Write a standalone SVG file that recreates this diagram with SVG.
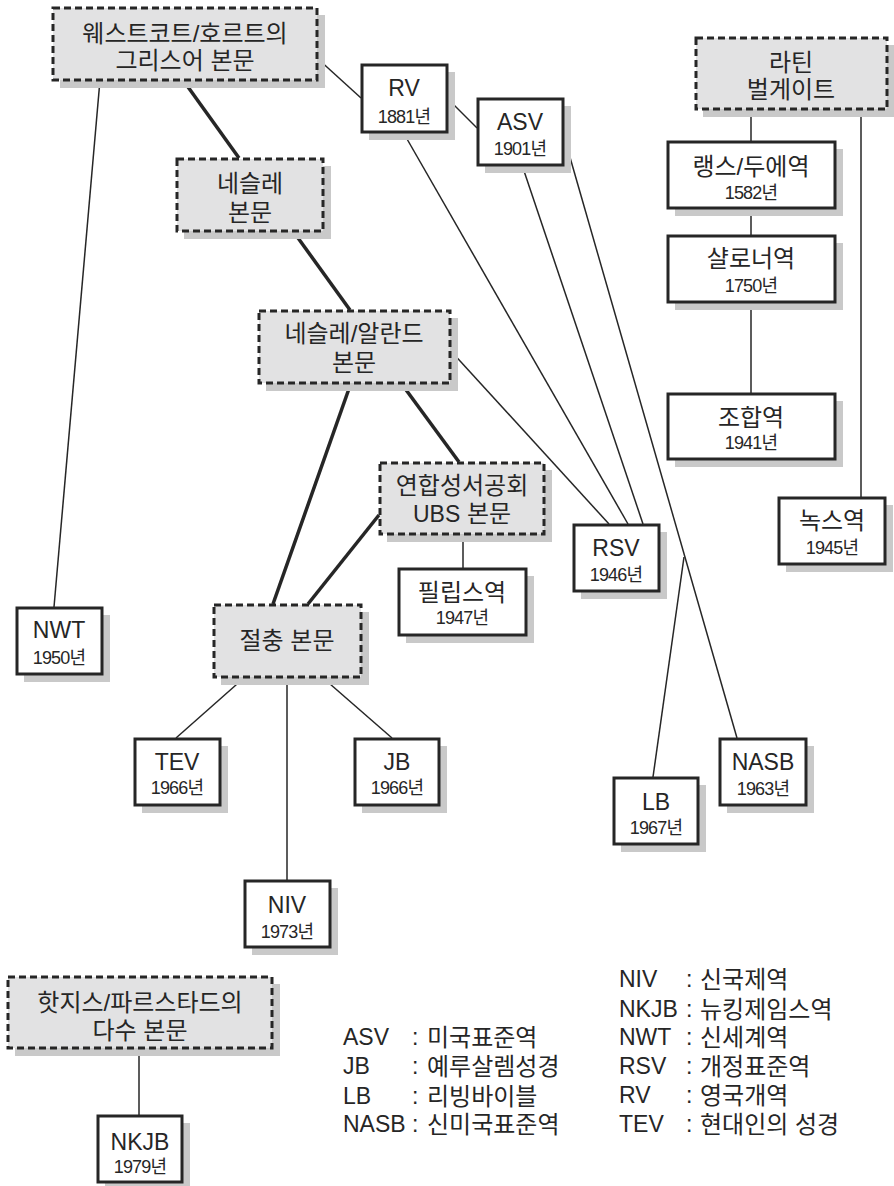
<svg xmlns="http://www.w3.org/2000/svg" width="894" height="1186" viewBox="0 0 894 1186">
<style>
text{font-family:"Liberation Sans","Noto Sans CJK KR",sans-serif;fill:#262626;text-anchor:middle}
.t{font-size:23px}
.k{font-size:24px}
.y{font-size:18px;letter-spacing:-0.8px}
.sh{fill:#c9c9c9}
.solid{fill:#fff;stroke:#262626;stroke-width:3}
.dash{fill:#e2e2e3;stroke:#262626;stroke-width:3;stroke-dasharray:7 4}
.thin{stroke:#262626;stroke-width:1.5;fill:none}
.thick{stroke:#262626;stroke-width:3.5;fill:none}
.lg{font-size:23px;text-anchor:start}
.lk{font-size:24px;text-anchor:start}
</style>
<rect width="894" height="1186" fill="#fff"/>
<g id="connectors">
<line class="thin" x1="100" y1="80" x2="54" y2="607"/>
<line class="thin" x1="317" y1="58" x2="361" y2="98"/>
<line class="thin" x1="447" y1="98" x2="477" y2="128"/>
<line class="thin" x1="403" y1="132" x2="628" y2="524"/>
<line class="thin" x1="522" y1="165" x2="643" y2="524"/>
<line class="thin" x1="563" y1="133" x2="737" y2="738"/>
<line class="thin" x1="684" y1="557" x2="653" y2="777"/>
<line class="thin" x1="450" y1="350" x2="609" y2="524"/>
<line class="thin" x1="463" y1="534" x2="463" y2="568"/>
<line class="thin" x1="245" y1="677" x2="176" y2="738"/>
<line class="thin" x1="287" y1="677" x2="287" y2="880"/>
<line class="thin" x1="322" y1="677" x2="392" y2="738"/>
<line class="thin" x1="751" y1="109" x2="751" y2="141"/>
<line class="thin" x1="751" y1="208" x2="751" y2="235"/>
<line class="thin" x1="751" y1="302" x2="751" y2="393"/>
<line class="thin" x1="861" y1="109" x2="861" y2="497"/>
<line class="thin" x1="139" y1="1048" x2="139" y2="1115"/>
<line class="thick" x1="183" y1="80" x2="239" y2="158"/>
<line class="thick" x1="293" y1="231" x2="350" y2="310"/>
<line class="thick" x1="351" y1="383" x2="273" y2="604"/>
<line class="thick" x1="401" y1="383" x2="459" y2="462"/>
<line class="thick" x1="379" y1="515" x2="308" y2="604"/>
</g>
<g id="westcott">
<rect class="sh" x="60" y="15" width="265" height="73"/>
<rect class="dash" x="53" y="8" width="264" height="72"/>
<text class="k" x="185" y="42">웨스트코트/호르트의</text>
<text class="k" x="185" y="69">그리스어 본문</text>
</g>
<g id="nestle">
<rect class="sh" x="184" y="166" width="147" height="73"/>
<rect class="dash" x="177" y="159" width="146" height="72"/>
<text class="k" x="250" y="192">네슬레</text>
<text class="k" x="250" y="221">본문</text>
</g>
<g id="nestleAland">
<rect class="sh" x="266" y="318" width="192" height="73"/>
<rect class="dash" x="259" y="311" width="191" height="72"/>
<text class="k" x="354" y="342">네슬레/알란드</text>
<text class="k" x="354" y="371">본문</text>
</g>
<g id="ubs">
<rect class="sh" x="387" y="470" width="165" height="72"/>
<rect class="dash" x="380" y="463" width="164" height="71"/>
<text class="k" x="462" y="494">연합성서공회</text>
<text class="k" x="462" y="522"><tspan style="font-size:23px">UBS</tspan> 본문</text>
</g>
<g id="eclectic">
<rect class="sh" x="221" y="612" width="148" height="73"/>
<rect class="dash" x="214" y="605" width="147" height="72"/>
<text class="k" x="287" y="649">절충 본문</text>
</g>
<g id="latin">
<rect class="sh" x="703" y="45" width="192" height="72"/>
<rect class="dash" x="696" y="38" width="191" height="71"/>
<text class="k" x="791" y="71">라틴</text>
<text class="k" x="791" y="98">벌게이트</text>
</g>
<g id="hodges">
<rect class="sh" x="15" y="984" width="265" height="72"/>
<rect class="dash" x="8" y="977" width="264" height="71"/>
<text class="k" x="140" y="1011">핫지스/파르스타드의</text>
<text class="k" x="140" y="1039">다수 본문</text>
</g>
<g id="rv">
<rect class="sh" x="369" y="72" width="86" height="68"/>
<rect class="solid" x="362" y="65" width="85" height="67"/>
<text class="t" x="404" y="96">RV</text>
<text class="y" x="404" y="123">1881년</text>
</g>
<g id="asv">
<rect class="sh" x="485" y="106" width="86" height="67"/>
<rect class="solid" x="478" y="99" width="85" height="66"/>
<text class="t" x="520" y="130">ASV</text>
<text class="y" x="520" y="155">1901년</text>
</g>
<g id="rheims">
<rect class="sh" x="675" y="149" width="168" height="67"/>
<rect class="solid" x="668" y="142" width="167" height="66"/>
<text class="k" x="751" y="175">랭스/두에역</text>
<text class="y" x="751" y="199">1582년</text>
</g>
<g id="challoner">
<rect class="sh" x="675" y="243" width="168" height="67"/>
<rect class="solid" x="668" y="236" width="167" height="66"/>
<text class="k" x="751" y="267">샬로너역</text>
<text class="y" x="751" y="292">1750년</text>
</g>
<g id="joint">
<rect class="sh" x="675" y="401" width="168" height="66"/>
<rect class="solid" x="668" y="394" width="167" height="65"/>
<text class="k" x="751" y="426">조합역</text>
<text class="y" x="751" y="449">1941년</text>
</g>
<g id="knox">
<rect class="sh" x="786" y="505" width="107" height="67"/>
<rect class="solid" x="779" y="498" width="106" height="66"/>
<text class="k" x="832" y="529">녹스역</text>
<text class="y" x="832" y="554">1945년</text>
</g>
<g id="rsv">
<rect class="sh" x="581" y="532" width="86" height="67"/>
<rect class="solid" x="574" y="525" width="85" height="66"/>
<text class="t" x="616" y="556">RSV</text>
<text class="y" x="616" y="581">1946년</text>
</g>
<g id="phillips">
<rect class="sh" x="406" y="576" width="128" height="67"/>
<rect class="solid" x="399" y="569" width="127" height="66"/>
<text class="k" x="462" y="601">필립스역</text>
<text class="y" x="462" y="624">1947년</text>
</g>
<g id="nwt">
<rect class="sh" x="24" y="615" width="86" height="67"/>
<rect class="solid" x="17" y="608" width="85" height="66"/>
<text class="t" x="59" y="638">NWT</text>
<text class="y" x="59" y="664">1950년</text>
</g>
<g id="tev">
<rect class="sh" x="142" y="746" width="86" height="67"/>
<rect class="solid" x="135" y="739" width="85" height="66"/>
<text class="t" x="177" y="770">TEV</text>
<text class="y" x="177" y="794">1966년</text>
</g>
<g id="jb">
<rect class="sh" x="362" y="746" width="85" height="67"/>
<rect class="solid" x="355" y="739" width="84" height="66"/>
<text class="t" x="397" y="770">JB</text>
<text class="y" x="397" y="794">1966년</text>
</g>
<g id="lb">
<rect class="sh" x="621" y="785" width="85" height="67"/>
<rect class="solid" x="614" y="778" width="84" height="66"/>
<text class="t" x="656" y="810">LB</text>
<text class="y" x="656" y="834">1967년</text>
</g>
<g id="nasb">
<rect class="sh" x="727" y="746" width="87" height="67"/>
<rect class="solid" x="720" y="739" width="86" height="66"/>
<text class="t" x="763" y="770">NASB</text>
<text class="y" x="763" y="795">1963년</text>
</g>
<g id="niv">
<rect class="sh" x="252" y="888" width="86" height="67"/>
<rect class="solid" x="245" y="881" width="85" height="66"/>
<text class="t" x="287" y="913">NIV</text>
<text class="y" x="287" y="938">1973년</text>
</g>
<g id="nkjb">
<rect class="sh" x="105" y="1123" width="85" height="67"/>
<rect class="solid" x="98" y="1116" width="84" height="66"/>
<text class="t" x="140" y="1150">NKJB</text>
<text class="y" x="140" y="1173">1979년</text>
</g>
<g id="legend-left">
<text class="lg" x="343" y="1045">ASV</text><text class="lg" x="412" y="1045">:</text><text class="lk" x="427" y="1046">미국표준역</text>
<text class="lg" x="343" y="1074">JB</text><text class="lg" x="412" y="1074">:</text><text class="lk" x="427" y="1075">예루살렘성경</text>
<text class="lg" x="343" y="1104">LB</text><text class="lg" x="412" y="1104">:</text><text class="lk" x="427" y="1105">리빙바이블</text>
<text class="lg" x="343" y="1132">NASB</text><text class="lg" x="412" y="1132">:</text><text class="lk" x="427" y="1133">신미국표준역</text>
</g>
<g id="legend-right">
<text class="lg" x="619" y="987">NIV</text><text class="lg" x="686" y="987">:</text><text class="lk" x="700" y="988">신국제역</text>
<text class="lg" x="619" y="1017">NKJB</text><text class="lg" x="686" y="1017">:</text><text class="lk" x="700" y="1018">뉴킹제임스역</text>
<text class="lg" x="619" y="1045">NWT</text><text class="lg" x="686" y="1045">:</text><text class="lk" x="700" y="1046">신세계역</text>
<text class="lg" x="619" y="1074">RSV</text><text class="lg" x="686" y="1074">:</text><text class="lk" x="700" y="1075">개정표준역</text>
<text class="lg" x="619" y="1103">RV</text><text class="lg" x="686" y="1103">:</text><text class="lk" x="700" y="1104">영국개역</text>
<text class="lg" x="619" y="1132">TEV</text><text class="lg" x="686" y="1132">:</text><text class="lk" x="700" y="1133">현대인의 성경</text>
</g>
</svg>
